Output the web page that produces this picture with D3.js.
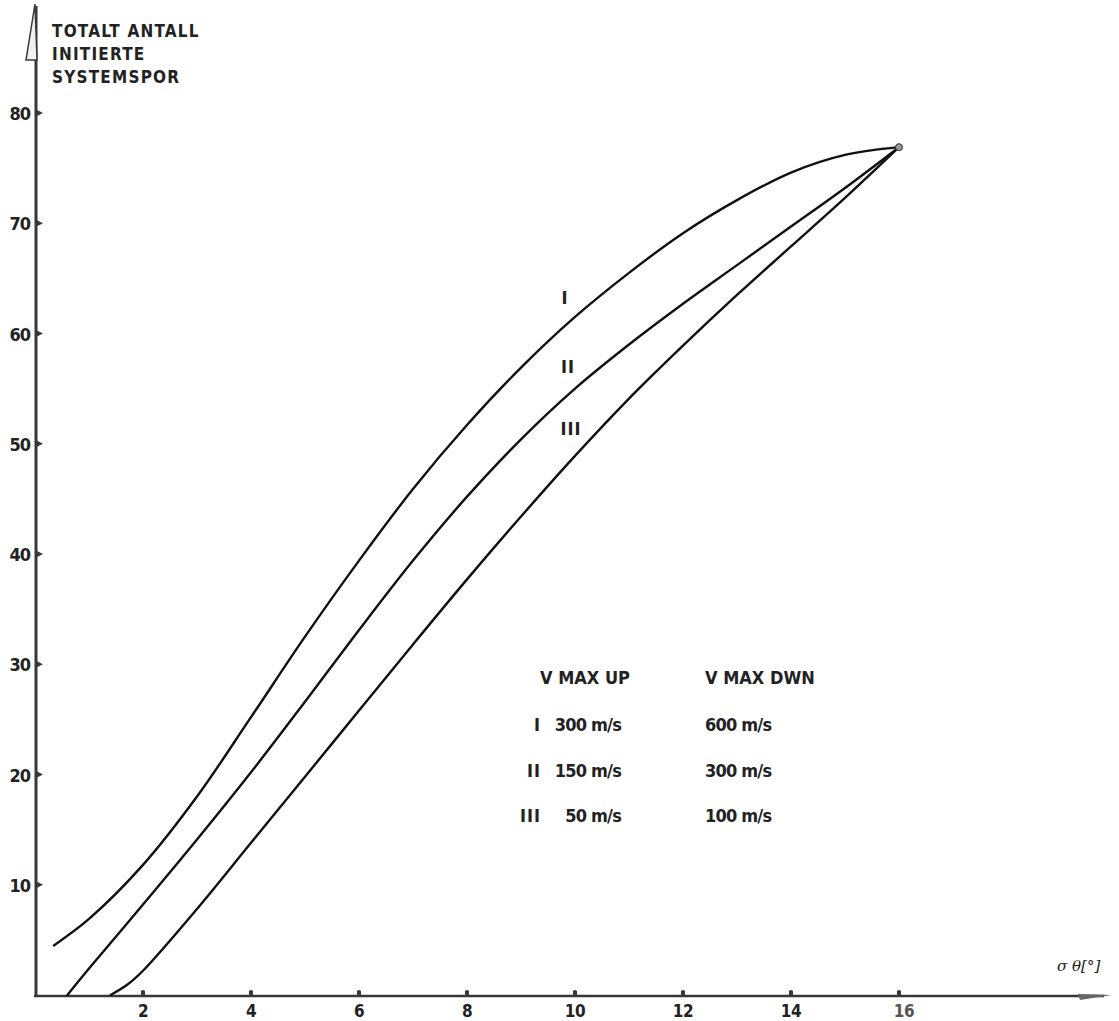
<!DOCTYPE html>
<html>
<head>
<meta charset="utf-8">
<script src="https://cdn.jsdelivr.net/npm/d3@7/dist/d3.min.js"></script>
<style>
  html, body { margin: 0; padding: 0; background: #ffffff; }
  svg { display: block; }
  text { font-family: "DejaVu Sans Condensed", "DejaVu Sans", sans-serif; font-weight: bold; fill: #222; }
</style>
</head>
<body>
<svg id="chart" width="1119" height="1021"></svg>
<script>
// Total number of initiated system tracks vs. sigma theta, three speed cases
const xTicks = [2, 4, 6, 8, 10, 12, 14, 16];
const yTicks = [10, 20, 30, 40, 50, 60, 70, 80];

const seriesNames = ["I", "II", "III"];
const curveI = [[0.35, 4.5], [1, 6.9], [2, 11.8], [3, 18.0], [4, 25.2], [5, 32.5], [6, 39.4], [7, 45.9],
                [8, 51.7], [9, 56.9], [10, 61.5], [11, 65.5], [12, 69.1], [13, 72.1], [14, 74.6], [15, 76.2], [16, 76.9]];
const curveII = [[0.6, 0], [1, 2.4], [2, 8.2], [3, 14.1], [4, 20.2], [5, 26.6], [6, 33.1], [7, 39.4],
                 [8, 45.2], [9, 50.4], [10, 55.0], [11, 59.0], [12, 62.7], [13, 66.2], [14, 69.7], [15, 73.2], [16, 76.9]];
const curveIII = [[1.4, 0], [1.7, 0.9], [2, 2.2], [3, 7.8], [4, 13.8], [5, 19.8], [6, 25.8], [7, 31.8], [8, 37.7],
                  [9, 43.4], [10, 48.9], [11, 54.1], [12, 58.9], [13, 63.5], [14, 67.9], [15, 72.3], [16, 76.9]];

const titleLines = ["TOTALT ANTALL", "INITIERTE", "SYSTEMSPOR"];
const legendHeaders = ["V MAX UP", "V MAX DWN"];
const legendRoman = ["I", "II", "III"];
const vMaxUp = ["300 m/s", "150 m/s", "50 m/s"];
const vMaxDwn = ["600 m/s", "300 m/s", "100 m/s"];
const xAxisLabel = "σ θ[°]";

const svg = d3.select("#chart");
const x = d3.scaleLinear().domain([0, 16]).range([35, 899]);
const y = d3.scaleLinear().domain([0, 80]).range([995, 113]);

// Axes
const axisColor = "#383838";
svg.append("line").attr("x1", 36).attr("x2", 36).attr("y1", y(0) + 2).attr("y2", 6)
  .attr("stroke", axisColor).attr("stroke-width", 3);
svg.append("path").attr("d", "M35,4 L26,60 L37,60 Z")
  .attr("fill", "#f0f0f0").attr("stroke", axisColor).attr("stroke-width", 1.5);
svg.append("line").attr("x1", 34).attr("x2", 1104).attr("y1", y(0) + 1).attr("y2", y(0) + 1)
  .attr("stroke", axisColor).attr("stroke-width", 2.5);
svg.append("path").attr("d", `M1078,${y(0) - 1} L1112,${y(0)} L1080,${y(0) + 5} Z`)
  .attr("fill", "#666");

// Y ticks: small right-pointing flags
svg.selectAll(".ytick").data(yTicks).enter().append("path")
  .attr("d", d => `M37,${y(d) - 3} L43,${y(d)} L37,${y(d) + 3} Z`)
  .attr("fill", axisColor);
svg.selectAll(".ylab").data(yTicks).enter().append("text")
  .attr("x", 30).attr("y", d => y(d) + 7)
  .attr("text-anchor", "end").attr("font-size", 18).attr("letter-spacing", -1)
  .text(d => d);

// X ticks: small bumps on the axis
svg.selectAll(".xtick").data(xTicks).enter().append("path")
  .attr("d", d => `M${x(d) - 2},${y(0)} L${x(d) - 2},${y(0) - 4} Q${x(d)},${y(0) - 6} ${x(d) + 2},${y(0) - 4} L${x(d) + 2},${y(0)} Z`)
  .attr("fill", axisColor);
svg.selectAll(".xlab").data(xTicks).enter().append("text")
  .attr("x", d => x(d) + (d === 16 ? 5 : 0)).attr("y", 1017)
  .attr("text-anchor", "middle").attr("font-size", 17).attr("letter-spacing", -0.5)
  .style("fill", d => d === 16 ? "#555" : "#222")
  .text(d => d);

svg.append("text").attr("x", 1057).attr("y", 971)
  .attr("font-size", 15).style("font-style", "italic").style("font-weight", "normal")
  .style("font-family", "'DejaVu Serif', serif")
  .text(xAxisLabel);

// Y axis title
svg.selectAll(".title").data(titleLines).enter().append("text")
  .attr("x", 52).attr("y", (d, i) => 37 + i * 23)
  .attr("font-size", 17).attr("letter-spacing", 1.2)
  .text(d => d);

// Curves
const line = d3.line().x(d => x(d[0])).y(d => y(d[1])).curve(d3.curveCatmullRom.alpha(0.5));
[curveI, curveII, curveIII].forEach(s => {
  svg.append("path").datum(s).attr("d", line)
    .attr("fill", "none").attr("stroke", "#111").attr("stroke-width", 2.4)
    .attr("stroke-linecap", "round");
});
svg.append("circle").attr("cx", x(16)).attr("cy", y(76.9)).attr("r", 3.5)
  .attr("fill", "#999").attr("stroke", "#333").attr("stroke-width", 1);

// Curve labels
const curveLabelPos = [[565, 304], [568, 373], [571, 435]];
seriesNames.forEach((n, i) => {
  svg.append("text").attr("x", curveLabelPos[i][0]).attr("y", curveLabelPos[i][1])
    .attr("text-anchor", "middle").attr("font-size", 18).attr("letter-spacing", 1)
    .text(n);
});

// Legend table
svg.append("text").attr("x", 540).attr("y", 684).attr("font-size", 18).text(legendHeaders[0]);
svg.append("text").attr("x", 705).attr("y", 684).attr("font-size", 18).text(legendHeaders[1]);
legendRoman.forEach((r, i) => {
  const by = 731 + i * 45.5;
  svg.append("text").attr("x", 541).attr("y", by).attr("text-anchor", "end")
    .attr("font-size", 18).attr("letter-spacing", 1).text(r);
  svg.append("text").attr("x", 621).attr("y", by).attr("text-anchor", "end")
    .attr("font-size", 18).attr("letter-spacing", -0.8).text(vMaxUp[i]);
  svg.append("text").attr("x", 705).attr("y", by)
    .attr("font-size", 18).attr("letter-spacing", -0.8).text(vMaxDwn[i]);
});
</script>
</body>
</html>
